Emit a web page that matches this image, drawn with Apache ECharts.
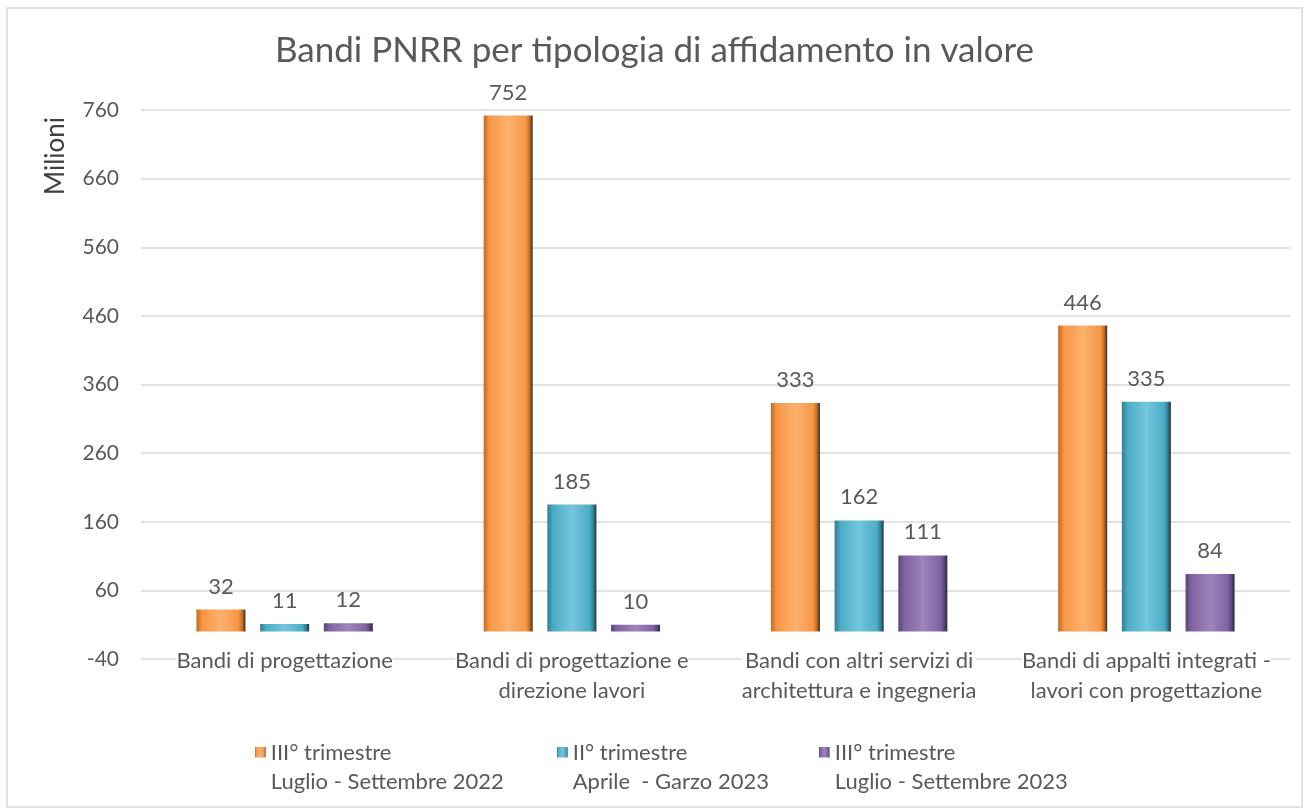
<!DOCTYPE html>
<html>
<head>
<meta charset="utf-8">
<script src="https://cdn.jsdelivr.net/npm/echarts@6/dist/echarts.min.js"></script>
<style>
html,body{margin:0;padding:0;background:#fff;}
#chart{width:1309px;height:809px;}
</style>
</head>
<body>
<div id="chart"></div>
<script>
/* Bandi PNRR per tipologia di affidamento in valore */

const categorie=[
    "Bandi di progettazione",
    "Bandi di progettazione e\ndirezione lavori",
    "Bandi con altri servizi di\narchitettura e ingegneria",
    "Bandi di appalti integrati -\nlavori con progettazione"
];

const nomiSerie=[
    "III° trimestre\nLuglio - Settembre 2022",
    "II° trimestre\nAprile  - Garzo 2023",
    "III° trimestre\nLuglio - Settembre 2023"
];

const valori2022T3=[32,752,333,446];
const valori2023T2=[11,185,162,335];
const valori2023T3=[12,10,111,84];

const assiY={min:-40,max:760,interval:100};

const FONT="Lato, 'Open Sans', sans-serif";
const GRIGIO="#595959";

function bevel(base,light,dark){
    return new echarts.graphic.LinearGradient(0,0,1,0,[
        {offset:0,color:dark},
        {offset:0.12,color:base},
        {offset:0.5,color:light},
        {offset:0.86,color:base},
        {offset:0.94,color:dark},
        {offset:1,color:"#2b2b2b"}
    ]);
}

const colori=[
    bevel("#F79646","#FBB26E","#C46A22"),
    bevel("#4BACC6","#74C6DC","#2C7F96"),
    bevel("#8064A2","#9C84BC","#5A447A")
];

const chart=echarts.init(document.getElementById("chart"));

const iconaLegenda="path://M0,0L10,0L10,10L0,10Z M0,38L0.01,38";

function serie(nome,dati,i){
    return {
        name:nome,
        type:"bar",
        data:dati,
        barWidth:49,
        barGap:"30%",
        itemStyle:{color:colori[i]},
        label:{
            show:true,
            position:"top",
            distance:12,
            color:GRIGIO,
            fontFamily:FONT,
            fontSize:22
        }
    };
}

function legenda(nome,left){
    return {
        data:[nome],
        left:left,
        top:733,
        icon:iconaLegenda,
        itemWidth:11,
        itemHeight:40,
        itemGap:3,
        textStyle:{
            color:GRIGIO,
            fontFamily:FONT,
            fontSize:22,
            lineHeight:29
        }
    };
}

const option={
    animation:false,
    title:{
        text:"Bandi PNRR per tipologia di affidamento in valore",
        left:"center",
        top:28,
        textStyle:{
            color:GRIGIO,
            fontFamily:FONT,
            fontSize:35,
            fontWeight:"normal"
        }
    },
    legend:[
        legenda(nomiSerie[0],250),
        legenda(nomiSerie[1],552),
        legenda(nomiSerie[2],814)
    ],
    grid:{
        left:141,
        right:19,
        top:110,
        bottom:150
    },
    xAxis:{
        type:"category",
        data:categorie,
        axisLine:{show:false},
        axisTick:{show:false},
        axisLabel:{
            color:GRIGIO,
            fontFamily:FONT,
            fontSize:22,
            lineHeight:30,
            margin:-13,
            backgroundColor:"#fff",
            interval:0
        }
    },
    yAxis:{
        type:"value",
        min:assiY.min,
        max:assiY.max,
        interval:assiY.interval,
        axisLine:{show:false},
        axisTick:{show:false},
        axisLabel:{
            color:GRIGIO,
            fontFamily:FONT,
            fontSize:21,
            margin:22
        },
        splitLine:{
            lineStyle:{color:"#D9D9D9",width:1.5}
        }
    },
    graphic:[
        {
            type:"rect",
            shape:{x:7,y:8,width:1295,height:799},
            style:{fill:null,stroke:"#D9D9D9",lineWidth:1.5},
            silent:true
        },
        {
            type:"text",
            x:56,
            y:156,
            rotation:Math.PI/2,
            style:{
                text:"Milioni",
                fill:"#404040",
                font:"26px "+FONT,
                align:"center",
                verticalAlign:"middle"
            }
        }
    ],
    series:[
        serie(nomiSerie[0],valori2022T3,0),
        serie(nomiSerie[1],valori2023T2,1),
        serie(nomiSerie[2],valori2023T3,2)
    ]
};

chart.setOption(option);
</script>
</body>
</html>
